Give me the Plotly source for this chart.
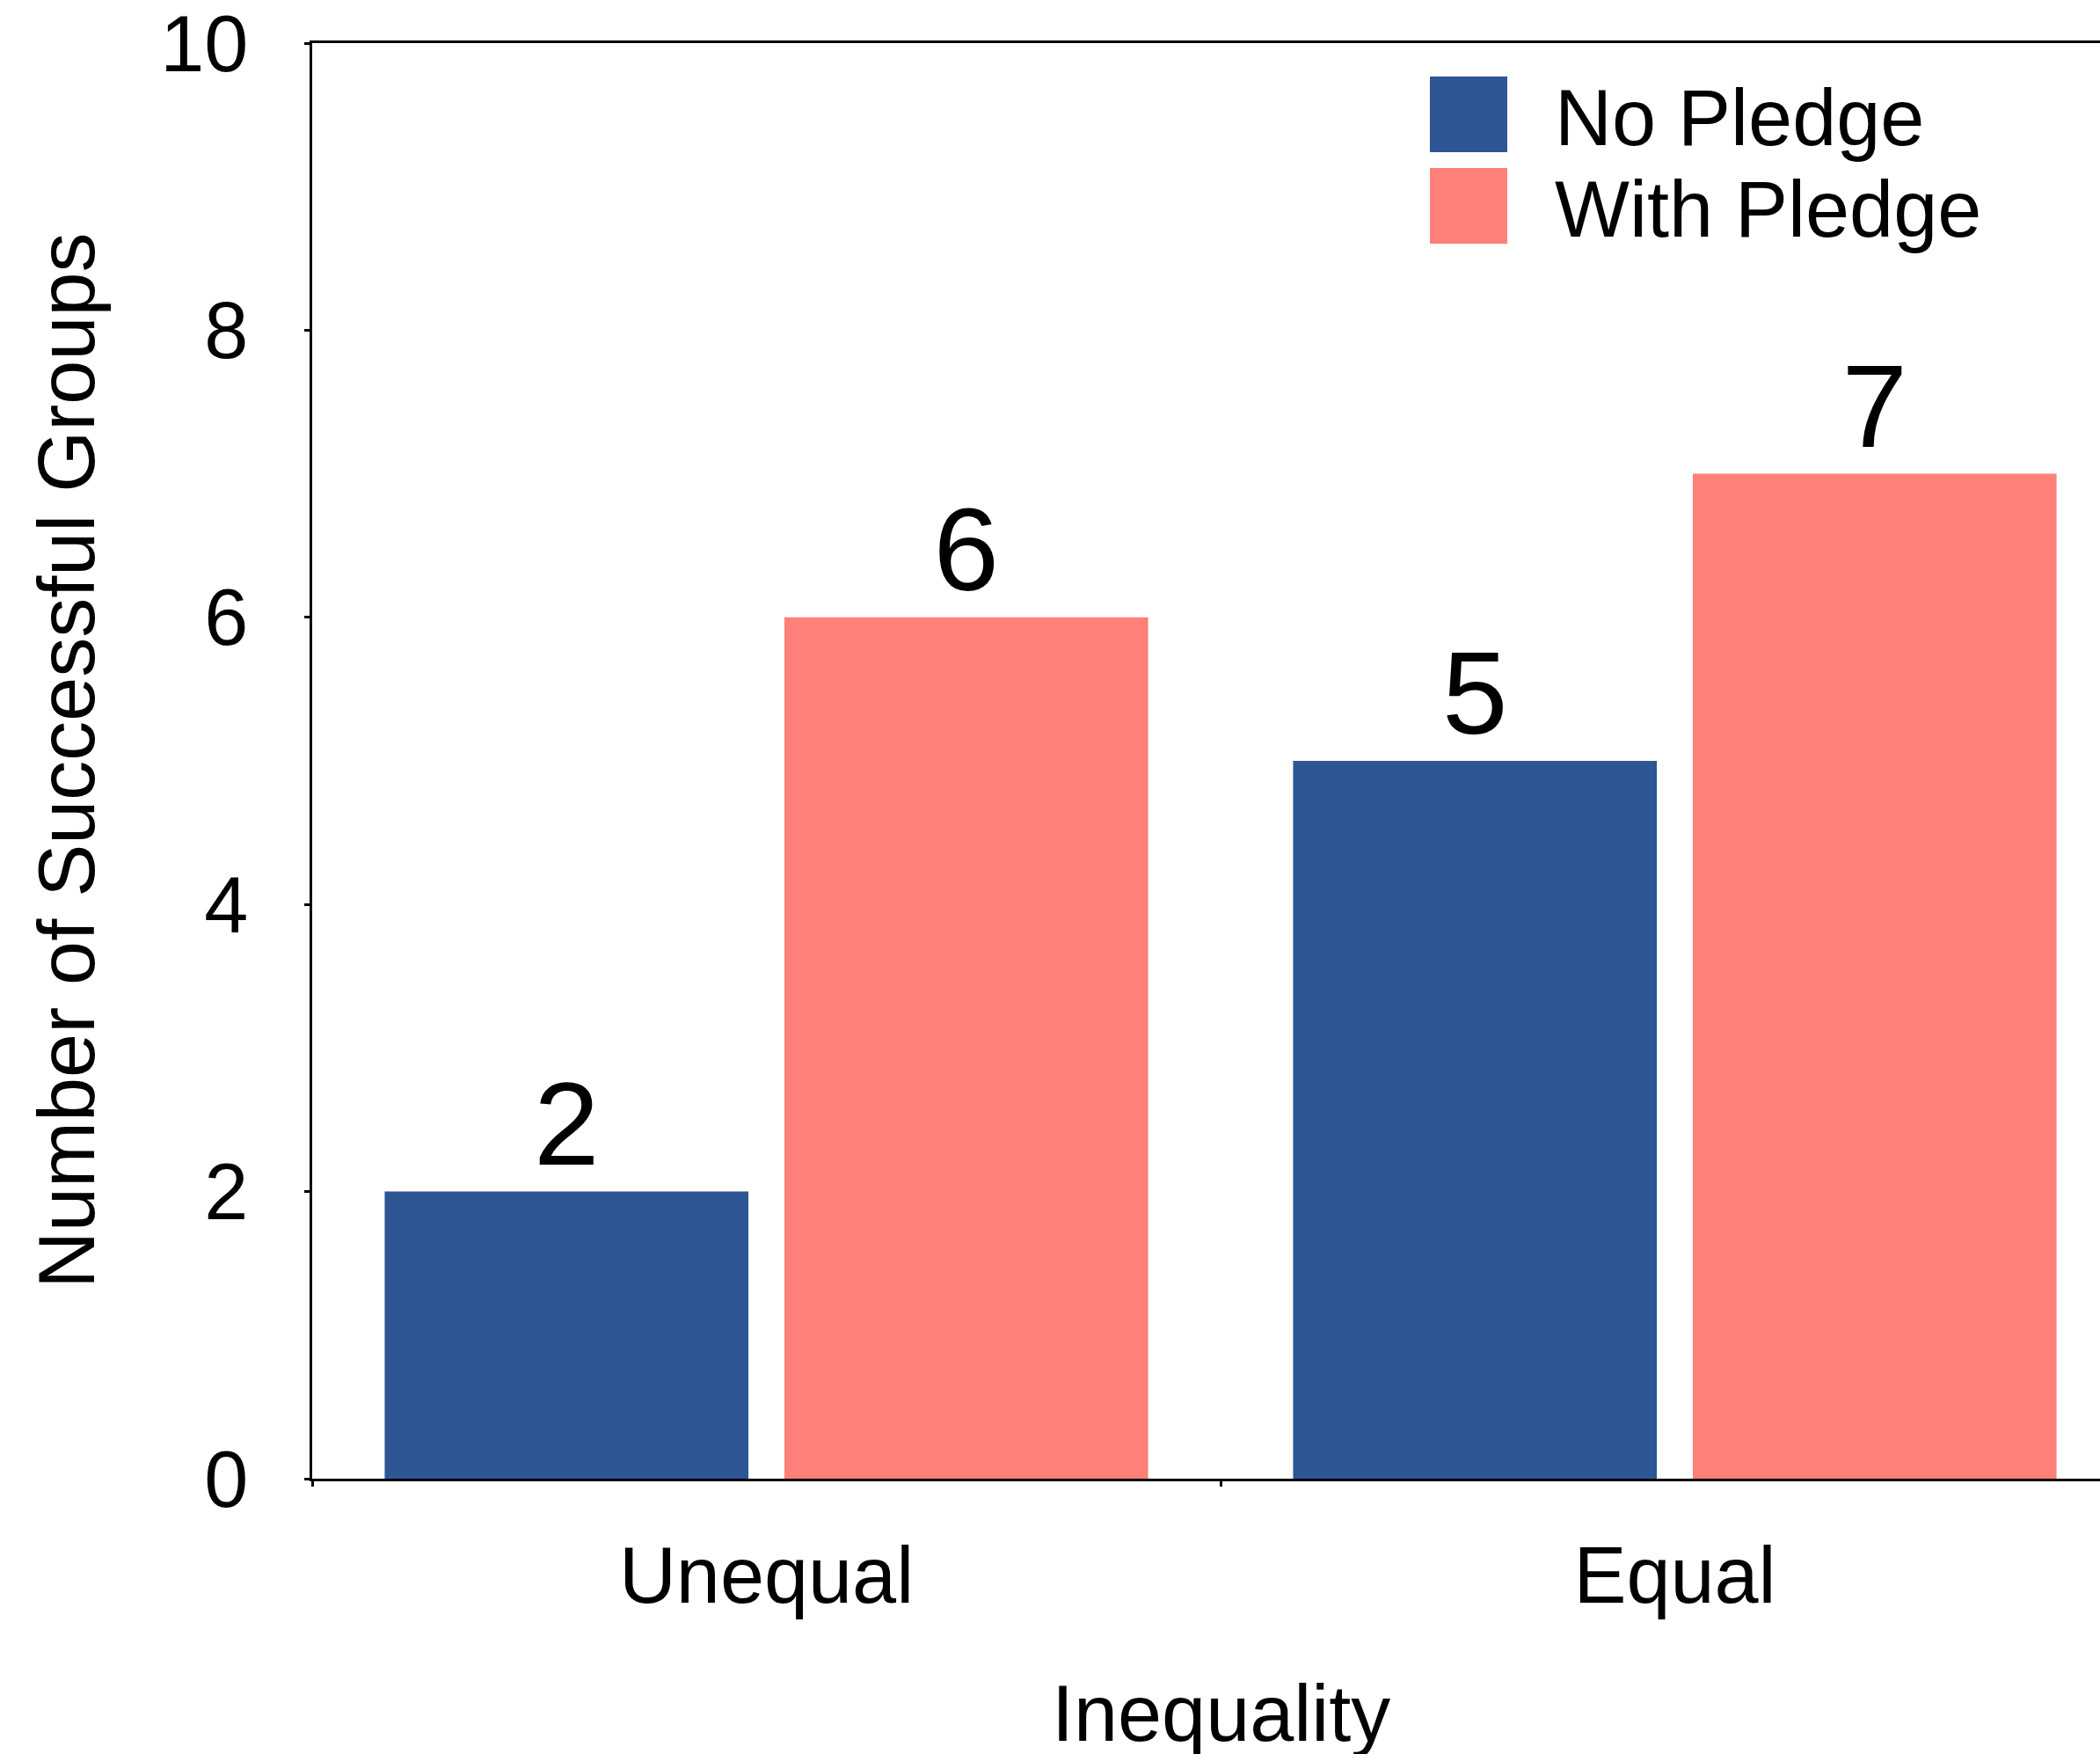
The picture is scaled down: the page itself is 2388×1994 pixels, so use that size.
import plotly.graph_objects as go

# ---- data ----
categories = ["Unequal", "Equal"]
series_names = ["No Pledge", "With Pledge"]
no_pledge = [2, 5]
with_pledge = [6, 7]
y_ticks = [0, 2, 4, 6, 8, 10]

# ---- style ----
FONT = "Liberation Sans, Arial, Helvetica, sans-serif"
BLUE = "#2E5594"
PINK = "#FF7F79"
W, H = 2388, 1994
L, R, T, B = 355, 0, 49, 313
PLOT_W = W - L - R
PLOT_H = H - T - B
CAT_PX = 1033  # pixel width of one category slot


def px_x(p):
    return (p - L) / PLOT_W


def px_y(p):
    return (H - B - p) / PLOT_H


fig = go.Figure()
for name, vals, col in [(series_names[0], no_pledge, BLUE),
                        (series_names[1], with_pledge, PINK)]:
    fig.add_trace(go.Bar(
        x=categories, y=vals, name=name, marker_color=col,
        marker_line_width=0,
        text=[str(v) for v in vals], textposition="outside",
        textfont=dict(family=FONT, size=134, color="black"),
        cliponaxis=False, constraintext="none", showlegend=False,
    ))

# legend: large colour squares with labels
legend_rows = [(series_names[0], BLUE, 87, 173), (series_names[1], PINK, 191, 277)]
shapes = []
annotations = []
for name, col, y0, y1 in legend_rows:
    shapes.append(dict(type="rect", xref="paper", yref="paper",
                       x0=px_x(1626), x1=px_x(1714), y0=px_y(y1), y1=px_y(y0),
                       fillcolor=col, line=dict(width=0), layer="above"))
    annotations.append(dict(text=name, xref="paper", yref="paper",
                            x=px_x(1766), y=px_y((y0 + y1) / 2 + 4),
                            xanchor="left", yanchor="middle", showarrow=False,
                            font=dict(family=FONT, size=90, color="black")))

# axis titles
annotations.append(dict(text="Number of Successful Groups", xref="paper", yref="paper",
                        x=px_x(76), y=0.5, textangle=-90, xanchor="center",
                        yanchor="middle", showarrow=False,
                        font=dict(family=FONT, size=90, color="black")))
annotations.append(dict(text="Inequality", xref="x", yref="paper",
                        x=0.5, y=px_y(1948), xanchor="center", yanchor="middle",
                        showarrow=False,
                        font=dict(family=FONT, size=90, color="black")))

fig.update_layout(
    width=W, height=H,
    margin=dict(l=L, r=R, t=T, b=B, pad=0),
    paper_bgcolor="white", plot_bgcolor="white",
    barmode="group", bargap=0.12, bargroupgap=0.09,
    font=dict(family=FONT, size=90, color="black"),
    shapes=shapes, annotations=annotations,
    showlegend=False,
)
fig.update_xaxes(
    type="category", range=[-0.5, -0.5 + PLOT_W / CAT_PX],
    tickson="boundaries", ticks="outside", ticklen=6, tickwidth=2.5,
    tickcolor="black", showline=True, linecolor="black", linewidth=2.5,
    mirror=True, showgrid=False, zeroline=False,
    tickfont=dict(family=FONT, size=90, color="black"),
    ticklabelstandoff=30,
)
fig.update_yaxes(
    range=[0, 10], tickvals=y_ticks, ticks="outside", ticklen=6, tickwidth=2.5,
    tickcolor="black", showline=True, linecolor="black", linewidth=2.5,
    showgrid=False, zeroline=False,
    tickfont=dict(family=FONT, size=90, color="black"),
    ticklabelstandoff=46, ticklabeloverflow="allow",
)

fig.write_html("out.html")
